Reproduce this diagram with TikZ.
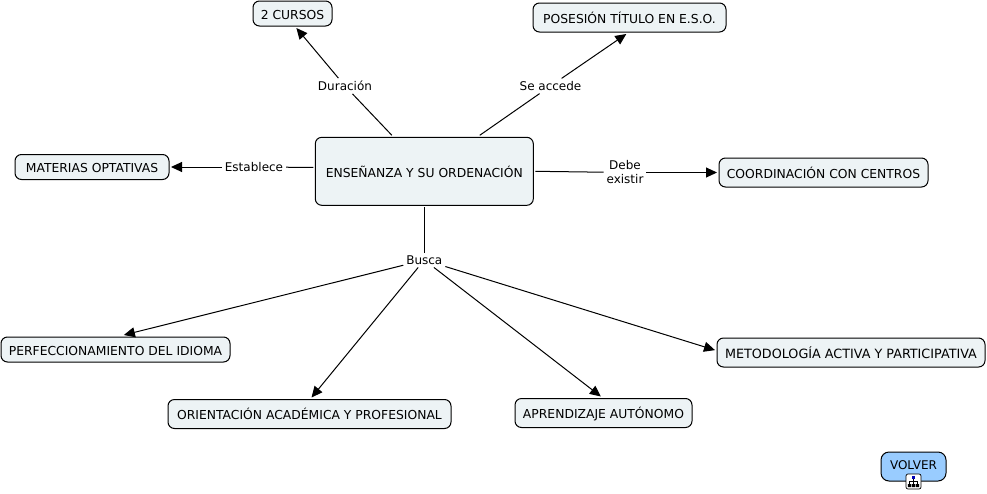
\documentclass[tikz,border=0pt]{standalone}
\usepackage{fontspec}
\setmainfont{DejaVu Sans}
\usetikzlibrary{arrows.meta,positioning}
\definecolor{boxfill}{HTML}{EDF3F5}
\definecolor{backfill}{HTML}{99CCFF}

\begin{document}
\begin{tikzpicture}[x=1pt,y=-1pt,>={Triangle[length=11pt,width=10pt]},line width=1pt]
\tikzstyle{concept}=[draw,fill=boxfill,rounded corners=6.5pt,minimum height=25pt,inner sep=0pt,outer sep=2pt,align=center,
font=\fontsize{12.35}{14}\selectfont,text height=11.5pt,text depth=0pt]
\tikzstyle{linkword}=[inner sep=0pt,outer sep=3pt,align=center,font=\fontsize{12}{14}\selectfont]
\useasboundingbox (0,0) rectangle (987,493);

\node[concept,minimum width=218pt,minimum height=68pt] (main) at (424.3,171.3) {ENSEÑANZA Y SU ORDENACIÓN};
\node[concept,minimum width=79pt]  (cursos)   at (292.5,13.5) {2 CURSOS};
\node[concept,minimum width=193pt,minimum height=29pt] (titulo)   at (629.5,17.5) {POSESIÓN TÍTULO EN E.S.O.};
\node[concept,minimum width=154pt,text height=10.5pt] (materias) at (92,167) {MATERIAS OPTATIVAS};
\node[concept,minimum width=209pt,minimum height=29pt] (centros)  at (823.5,172.5) {COORDINACIÓN CON CENTROS};
\node[concept,minimum width=229pt] (idioma)   at (115.5,349.5) {PERFECCIONAMIENTO DEL IDIOMA};
\node[concept,minimum width=283pt,minimum height=29pt] (orienta)  at (309.5,414) {ORIENTACIÓN ACADÉMICA Y PROFESIONAL};
\node[concept,minimum width=177pt,minimum height=29pt] (autonomo) at (603.5,413) {APRENDIZAJE AUTÓNOMO};
\node[concept,minimum width=268pt,minimum height=29pt,font=\fontsize{12.75}{14}\selectfont] (activa) at (851,352.5) {METODOLOGÍA ACTIVA Y PARTICIPATIVA};
\node[concept,fill=backfill,rounded corners=8pt,minimum width=65pt,minimum height=29pt,font=\fontsize{12}{14}\selectfont,text height=10.5pt] (volver) at (913.5,466.5) {\raisebox{2.5pt}{VOLVER}};

\node[linkword] (duracion)  at (345,86)  {Duración};
\node[linkword] (accede)    at (550.5,86)  {Se accede};
\node[linkword] (establece) at (254,167) {Establece};
\node[linkword] (debe)      at (625,172.5) {Debe\\existir};
\node[linkword] (busca)     at (424.3,260) {Busca};

\path (main.132) edge (duracion)
(duracion) edge[->] (cursos.-75)
(main.33.5) edge (accede)
(accede) edge[->] (titulo.-101)
(main.178) edge (establece)
(establece) edge[->] (materias.east)
(main.-0.7) edge (debe)
(debe) edge[->] (centros.west)
(main.south) edge (busca)
(busca) edge[->] (idioma.60)
(busca) edge[->] (orienta.83)
(busca) edge[->] (autonomo.99)
(busca) edge[->] (activa.179);

% map icon on the back link
\node[draw,fill=white,rounded corners=2pt,line width=.7pt,minimum size=15pt,inner sep=0pt] (icon) at (913.5,481.5) {};
\draw[line width=.7pt] (913.5,477) -- (913.5,484) (909.5,481) -- (917.5,481) (909.5,481) -- (909.5,485) (917.5,481) -- (917.5,485);
\fill[blue!70!black] (911.8,475.5) rectangle (915.2,478.5);
\fill[black] (907.8,484) rectangle (911.2,487) (915.8,484) rectangle (919.2,487) (911.8,484) rectangle (915.2,487);
\end{tikzpicture}
\end{document}
